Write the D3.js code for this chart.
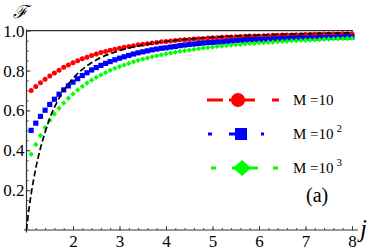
<!DOCTYPE html>
<html>
<head>
<meta charset="utf-8">
<script src="https://cdn.jsdelivr.net/npm/d3@7"></script>
<style>
  body { margin: 0; background: #fff; }
  svg { display: block; }
  text { font-family: "Liberation Serif", "DejaVu Serif", serif; fill: #000; }
</style>
</head>
<body>
<svg width="374" height="250"></svg>
<script>
// marker positions in j (0.1 apart, 1.1 .. 8.0)
const js = d3.range(11, 81).map(d => d / 10);

// M = 10 (red circles)
const fM1 = [0.700, 0.720, 0.739, 0.756, 0.773, 0.788, 0.802, 0.816, 0.828, 0.839,
  0.849, 0.859, 0.867, 0.875, 0.883, 0.890, 0.896, 0.902, 0.907, 0.912,
  0.917, 0.921, 0.925, 0.929, 0.932, 0.935, 0.938, 0.941, 0.944, 0.946,
  0.948, 0.951, 0.953, 0.955, 0.956, 0.958, 0.960, 0.961, 0.963, 0.964,
  0.965, 0.967, 0.968, 0.969, 0.970, 0.971, 0.972, 0.973, 0.974, 0.974,
  0.975, 0.976, 0.977, 0.977, 0.978, 0.979, 0.979, 0.980, 0.980, 0.981,
  0.981, 0.982, 0.982, 0.983, 0.983, 0.984, 0.984, 0.985, 0.985, 0.985];

// M = 10^2 (blue squares)
const fM2 = [0.500, 0.536, 0.570, 0.601, 0.630, 0.656, 0.681, 0.703, 0.723, 0.742,
  0.759, 0.775, 0.789, 0.803, 0.815, 0.826, 0.836, 0.845, 0.854, 0.862,
  0.869, 0.876, 0.883, 0.889, 0.894, 0.899, 0.904, 0.908, 0.912, 0.914,
  0.918, 0.921, 0.925, 0.928, 0.931, 0.933, 0.936, 0.938, 0.940, 0.941,
  0.943, 0.944, 0.946, 0.948, 0.950, 0.951, 0.953, 0.954, 0.955, 0.955,
  0.956, 0.957, 0.958, 0.959, 0.960, 0.961, 0.962, 0.963, 0.964, 0.963,
  0.964, 0.964, 0.965, 0.966, 0.966, 0.967, 0.968, 0.968, 0.969, 0.969];

// M = 10^3 (green diamonds)
const fM3 = [0.380, 0.429, 0.474, 0.514, 0.550, 0.582, 0.611, 0.637, 0.661, 0.683,
  0.703, 0.721, 0.737, 0.752, 0.766, 0.778, 0.790, 0.801, 0.811, 0.820,
  0.828, 0.836, 0.844, 0.851, 0.857, 0.863, 0.869, 0.874, 0.879, 0.884,
  0.888, 0.892, 0.896, 0.900, 0.903, 0.906, 0.910, 0.913, 0.915, 0.918,
  0.921, 0.923, 0.926, 0.928, 0.930, 0.932, 0.934, 0.936, 0.937, 0.939,
  0.940, 0.942, 0.943, 0.945, 0.946, 0.947, 0.949, 0.950, 0.951, 0.952,
  0.953, 0.954, 0.955, 0.957, 0.958, 0.959, 0.960, 0.960, 0.961, 0.962];

// black dashed reference curve
const jDash = [1.0, 1.05, 1.1, 1.2, 1.3, 1.4, 1.5, 1.6, 1.8, 2.0, 2.25, 2.5, 3.0, 3.5, 4.0, 5.0, 6.0, 7.0, 8.0];
const fDash = [0, 0.10, 0.18, 0.31, 0.41, 0.49, 0.56, 0.615, 0.70, 0.76, 0.815, 0.853, 0.90, 0.928, 0.946, 0.967, 0.978, 0.985, 0.989];

const xTicks = [2, 3, 4, 5, 6, 7, 8];
const yTicks = [0.2, 0.4, 0.6, 0.8, 1.0];
const legendLabels = [["M =10", ""], ["M =10", "2"], ["M =10", "3"]];

const svg = d3.select('svg');
const x = d3.scaleLinear().domain([1, 8]).range([26.5, 352]);
const y = d3.scaleLinear().domain([0, 1]).range([230, 30.7]);

// F = 1 line
svg.append('line')
  .attr('x1', x(1)).attr('x2', 353)
  .attr('y1', y(1)).attr('y2', y(1))
  .attr('stroke', '#333').attr('stroke-width', 1.3);

// axes
const xMinor = svg.append('g').attr('transform', `translate(0,${y(0)})`)
  .call(d3.axisBottom(x).tickValues(d3.range(12, 81, 2).map(d => d / 10)).tickSize(-2).tickFormat(''));
const xMajor = svg.append('g').attr('transform', `translate(0,${y(0)})`)
  .call(d3.axisBottom(x).tickValues(xTicks).tickSize(-4).tickPadding(5).tickFormat(d3.format('d')));
const yMinor = svg.append('g').attr('transform', `translate(${x(1)},0)`)
  .call(d3.axisLeft(y).tickValues(d3.range(1, 20).map(d => d / 20)).tickSize(-2).tickFormat(''));
const yMajor = svg.append('g').attr('transform', `translate(${x(1)},0)`)
  .call(d3.axisLeft(y).tickValues(yTicks).tickSize(-4).tickPadding(2).tickFormat(d3.format('.1f')));

[xMinor, xMajor, yMinor, yMajor].forEach(g => {
  g.select('.domain').remove();
  g.selectAll('.tick line').attr('stroke', '#333').attr('stroke-width', 0.9);
  g.selectAll('text').attr('font-family', '"Liberation Serif", serif').attr('font-size', 17);
});

svg.append('line').attr('x1', 24).attr('x2', 358).attr('y1', y(0)).attr('y2', y(0))
  .attr('stroke', '#333').attr('stroke-width', 1.2);
svg.append('line').attr('x1', x(1)).attr('x2', x(1)).attr('y1', 29.5).attr('y2', 232.5)
  .attr('stroke', '#333').attr('stroke-width', 1.2);

// markers
svg.append('g').selectAll('circle').data(js)
  .join('circle')
  .attr('cx', d => x(d)).attr('cy', (d, i) => y(fM1[i]))
  .attr('r', 2.5).attr('fill', '#ff0000');

svg.append('g').selectAll('rect').data(js)
  .join('rect')
  .attr('x', d => x(d) - 2.6).attr('y', (d, i) => y(fM2[i]) - 2.6)
  .attr('width', 5.2).attr('height', 5.2).attr('fill', '#0000ff');

const diamond = d3.symbol().type(d3.symbolDiamond2).size(18);
svg.append('g').selectAll('path').data(js)
  .join('path')
  .attr('transform', (d, i) => `translate(${x(d)},${y(fM3[i])})`)
  .attr('d', diamond).attr('fill', '#00ff00');

// dashed curve
const line = d3.line().x(d => x(d[0])).y(d => y(d[1])).curve(d3.curveMonotoneX);
svg.append('path')
  .datum(jDash.map((d, i) => [d, fDash[i]]))
  .attr('d', line)
  .attr('fill', 'none').attr('stroke', '#000')
  .attr('stroke-width', 1.7).attr('stroke-dasharray', '6,3');

// legend
const legColors = ['#ff0000', '#0000ff', '#00ff00'];
const legY = [100, 134, 168];
const legSegs = [
  [[207, 223], [229, 255], [272, 279]],
  [[208, 212], [229, 236], [261, 264]],
  [[211, 216], [232, 258], [273, 278]]
];
legY.forEach((ly, k) => {
  const g = svg.append('g');
  legSegs[k].forEach(s => {
    g.append('line').attr('x1', s[0]).attr('x2', s[1]).attr('y1', ly).attr('y2', ly)
      .attr('stroke', legColors[k]).attr('stroke-width', 3);
  });
  if (k === 0) {
    g.append('circle').attr('cx', 238).attr('cy', ly).attr('r', 7).attr('fill', legColors[k]);
  } else if (k === 1) {
    g.append('rect').attr('x', 235).attr('y', ly - 6).attr('width', 12).attr('height', 12).attr('fill', legColors[k]);
  } else {
    g.append('path').attr('transform', `translate(242,${ly})`)
      .attr('d', 'M0,-8L9,0L0,8L-9,0Z').attr('fill', legColors[k]);
  }
  const t = g.append('text').attr('x', 293).attr('y', ly + 5).attr('font-size', 15);
  t.append('tspan').text(legendLabels[k][0]);
  if (legendLabels[k][1]) {
    t.append('tspan').attr('dx', 3).attr('dy', -7).attr('font-size', 11).text(legendLabels[k][1]);
  }
});

// labels
svg.append('text').attr('x', 13).attr('y', 18).attr('font-size', 18)
  .attr('font-family', '"DejaVu Serif", serif').attr('font-style', 'italic').text('ℱ');
svg.append('text').attr('x', 306).attr('y', 202).attr('font-size', 20).text('(a)');
svg.append('text').attr('x', 360).attr('y', 237).attr('font-size', 25)
  .attr('font-style', 'italic').text('j');
</script>
</body>
</html>
